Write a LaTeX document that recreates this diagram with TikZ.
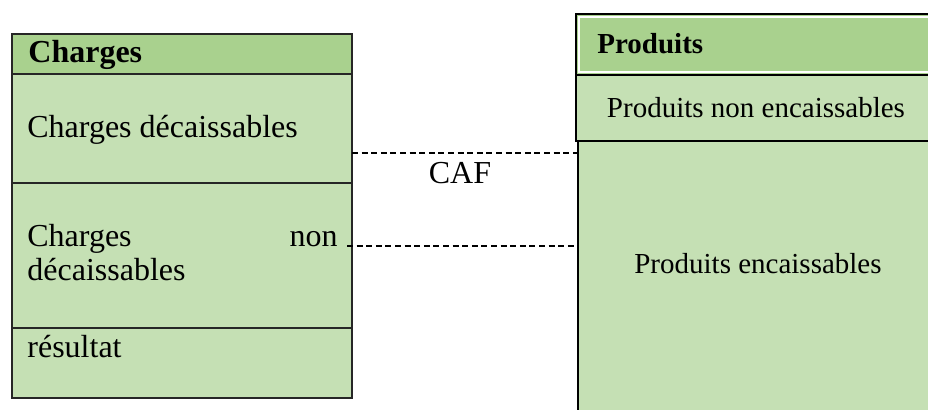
\documentclass[tikz,border=0pt]{standalone}
\usepackage{fontspec}
\setmainfont{Liberation Serif}
\definecolor{headgreen}{HTML}{A9D18E}
\definecolor{cellgreen}{HTML}{C5E0B4}
\tikzset{
  lcell/.style={draw=black!85, line width=0.6pt, fill=cellgreen, anchor=north west,
    minimum width=170pt, inner sep=0pt, outer sep=0pt},
  rcell/.style={draw=black, line width=1.4pt, fill=cellgreen, anchor=north west,
    minimum width=192pt, inner sep=0pt, outer sep=0pt},
  ltext/.style={inner sep=0pt, font=\fontsize{16}{17}\selectfont},
  rtext/.style={inner sep=0pt, font=\fontsize{14.5}{16}\selectfont},
  cafline/.style={draw=black, line width=1.2pt, dash pattern=on 3pt off 1.8pt},
}
\begin{document}
\begin{tikzpicture}[x=0.5pt,y=-0.5pt]
\useasboundingbox (0,0) rectangle (928,409);
\clip (0,0) rectangle (928,409);

% Charges side
\node[lcell, fill=headgreen, minimum height=20pt] (lhead) at (12,34) {};
\node[lcell, minimum height=54.5pt] (lbody1) at (12,74) {};
\node[lcell, minimum height=72.5pt] (lbody2) at (12,183) {};
\node[lcell, minimum height=35pt] (lres) at (12,328) {};

\node[ltext, anchor=base west, font=\fontsize{16}{17}\selectfont\bfseries] (tcharges) at (28,62) {Charges};
\node[ltext, anchor=base west] (tdec) at (27,137) {Charges décaissables};
\node[ltext, anchor=base west] (tnd1) at (27,246) {Charges};
\node[ltext, anchor=base east] (tnd2) at (338,246) {non};
\node[ltext, anchor=base west] (tnd3) at (27,280) {décaissables};
\node[ltext, anchor=base west] (tres) at (27,357) {résultat};

% Produits side
\node[rcell, fill=headgreen, minimum height=30.5pt] (rhead) at (576,14) {};
\draw[white, line width=0.8pt]
  ([shift={(1.5pt,-1.5pt)}]rhead.north west) rectangle ([shift={(-1.5pt,1.5pt)}]rhead.south east);
\node[rcell, minimum height=33pt] (rnon) at (576,75) {};
\node[rcell, minimum height=144.5pt] (renc) at (578,141) {};

\node[rtext, anchor=base west, font=\fontsize{14.5}{16}\selectfont\bfseries] (tprod) at (597,53) {Produits};
\node[rtext, anchor=base] (tpne) at (756,117) {Produits non encaissables};
\node[rtext, anchor=base] (tpe) at (758,273) {Produits encaissables};

% CAF links
\coordinate (cafA) at (352,153);
\coordinate (cafB) at (578,153);
\coordinate (cafC) at (347,246);
\coordinate (cafD) at (578,246);
\draw[cafline] (cafA) -- (cafB);
\draw[cafline] (cafC) -- (cafD);
\node[ltext, anchor=base] (tcaf) at (460,183) {CAF};
\end{tikzpicture}
\end{document}
